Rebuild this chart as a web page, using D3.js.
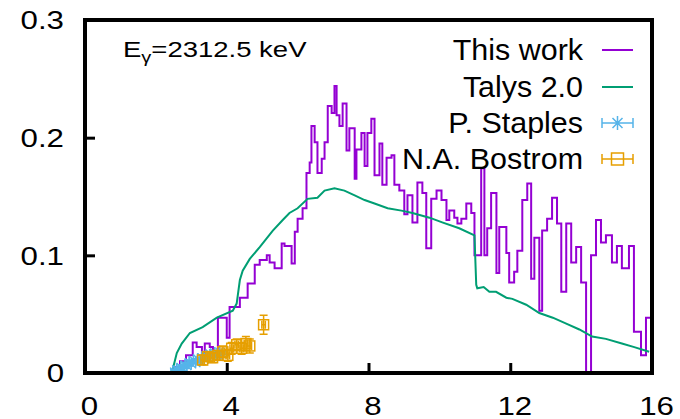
<!DOCTYPE html>
<html>
<head>
<meta charset="utf-8">
<script src="https://cdn.jsdelivr.net/npm/d3@7"></script>
<style>
  html, body { margin: 0; padding: 0; background: #fff; }
  svg { display: block; font-family: "Liberation Sans", Arial, sans-serif; }
</style>
</head>
<body>
<div id="chart"></div>
<script>
// ---- data ----
const xTicks = [0, 4, 8, 12, 16];
const yTicks = [0, 0.1, 0.2, 0.3];

// This work: histogram, left bin edges (MeV) and values
const workEdges = [2.51, 2.68, 2.85, 3.04, 3.15, 3.30, 3.38, 3.52, 3.61, 3.75, 4.00, 4.08, 4.37, 4.59, 4.79, 4.93,
  5.13, 5.21, 5.35, 5.55, 5.63, 5.83, 5.92, 6.00, 6.14, 6.25, 6.34, 6.39, 6.48, 6.56, 6.68, 6.76, 6.85, 6.96,
  7.04, 7.10, 7.18, 7.27, 7.38, 7.46, 7.61, 7.66, 7.80, 7.89, 7.97, 8.08, 8.17, 8.31, 8.39, 8.51, 8.65, 8.73,
  8.87, 9.01, 9.10, 9.24, 9.38, 9.52, 9.63, 9.77, 9.92, 10.06, 10.20, 10.28, 10.42, 10.51, 10.62, 10.76, 10.90,
  10.99, 11.18, 11.27, 11.35, 11.46, 11.61, 11.69, 11.89, 11.97, 12.11, 12.20, 12.34, 12.48, 12.59, 12.68,
  12.82, 12.90, 13.04, 13.18, 13.32, 13.44, 13.58, 13.72, 13.86, 14.00, 14.14, 14.28, 14.42, 14.56, 14.70,
  14.87, 15.01, 15.15, 15.35, 15.49, 15.69, 15.83];
const workVals = [0.005, 0.010, 0.015, 0.026, 0.022, 0.017, 0.025, 0.022, 0.017, 0.047, 0.030, 0.056, 0.064, 0.076, 0.092, 0.096,
  0.100, 0.094, 0.089, 0.110, 0.108, 0.093, 0.120, 0.131, 0.140, 0.170, 0.179, 0.210, 0.196, 0.170, 0.182, 0.196, 0.227, 0.221,
  0.244, 0.219, 0.210, 0.229, 0.189, 0.208, 0.165, 0.190, 0.204, 0.176, 0.204, 0.216, 0.168, 0.195, 0.160, 0.183, 0.185, 0.160,
  0.155, 0.135, 0.151, 0.128, 0.162, 0.153, 0.106, 0.148, 0.155, 0.147, 0.130, 0.138, 0.132, 0.127, 0.131, 0.144, 0.136,
  0.100, 0.174, 0.100, 0.123, 0.153, 0.085, 0.124, 0.102, 0.077, 0.086, 0.104, 0.147, 0.161, 0.080, 0.115,
  0.053, 0.121, 0.131, 0.149, 0.127, 0.069, 0.127, 0.094, 0.107, 0.077, 0.000, 0.100, 0.130, 0.111, 0.117,
  0.094, 0.108, 0.089, 0.108, 0.035, 0.015, 0.047];

// Talys 2.0
const talysE = [2.45, 2.59, 2.73, 2.96, 3.32, 3.72, 4.17, 4.28, 4.37, 4.45, 4.65, 4.93, 5.30, 5.58, 5.77, 6.00, 6.28,
  6.56, 6.76, 7.04, 7.32, 7.61, 7.89, 8.17, 8.54, 8.93, 9.24, 9.72, 10.08, 10.56, 10.99, 11.04, 11.07, 11.25,
  11.41, 11.60, 11.89, 12.06, 12.45, 12.82, 13.20, 13.58, 13.95, 14.31, 14.70, 15.15, 15.50, 15.92];
const talysVals = [0.000, 0.017, 0.025, 0.034, 0.039, 0.047, 0.053, 0.059, 0.079, 0.087, 0.097, 0.107, 0.121, 0.130, 0.136, 0.140, 0.148,
  0.149, 0.155, 0.157, 0.155, 0.151, 0.147, 0.144, 0.140, 0.138, 0.136, 0.132, 0.128, 0.123, 0.117, 0.075, 0.072, 0.073,
  0.069, 0.069, 0.064, 0.063, 0.058, 0.051, 0.047, 0.042, 0.037, 0.031, 0.029, 0.025, 0.022, 0.018];

// P. Staples
const staplesE = [2.52, 2.58, 2.64, 2.70, 2.76, 2.82, 2.88, 2.94, 3.00, 3.06, 3.12, 3.18, 3.24, 3.30, 3.36, 3.42,
  3.48, 3.54, 3.60, 3.66, 3.72, 3.80, 3.88];
const staplesVals = [0.001, 0.003, 0.002, 0.005, 0.004, 0.007, 0.006, 0.009, 0.008, 0.011, 0.009, 0.012, 0.010, 0.013, 0.012, 0.015,
  0.013, 0.016, 0.014, 0.017, 0.015, 0.018, 0.016];
const staplesXErr = [0.10, 0.10, 0.10, 0.10, 0.11, 0.11, 0.11, 0.11, 0.12, 0.12, 0.12, 0.12, 0.12, 0.13, 0.13, 0.13,
  0.13, 0.14, 0.14, 0.14, 0.14, 0.14, 0.14];

// N.A. Bostrom
const bostromE = [3.32, 3.46, 3.60, 3.75, 3.89, 4.03, 4.14, 4.28, 4.42, 4.54, 4.65, 5.04];
const bostromVals = [0.011, 0.014, 0.013, 0.015, 0.018, 0.015, 0.021, 0.024, 0.021, 0.025, 0.023, 0.041];
const bostromXErr = [0.05, 0.05, 0.05, 0.05, 0.05, 0.05, 0.05, 0.05, 0.05, 0.05, 0.05, 0.05];
const bostromYErr = [0.004, 0.004, 0.004, 0.004, 0.005, 0.005, 0.005, 0.005, 0.005, 0.006, 0.006, 0.008];

const legendLabels = ['This work', 'Talys 2.0', 'P. Staples', 'N.A. Bostrom'];

const cWork = '#9400d3', cTalys = '#009e73', cStaples = '#56b4e9', cBostrom = '#e69f00';

// ---- layout ----
const W = 680, H = 419;
const plot = { left: 85, right: 652, top: 20, bottom: 373 };

const svg = d3.select('#chart').append('svg')
    .attr('width', W)
    .attr('height', H);

const x = d3.scaleLinear().domain([0, 16]).range([plot.left, plot.right]);
const y = d3.scaleLinear().domain([0, 0.3]).range([plot.bottom, plot.top]);

svg.append('clipPath').attr('id', 'plotclip')
  .append('rect')
    .attr('x', plot.left).attr('y', plot.top)
    .attr('width', plot.right - plot.left).attr('height', plot.bottom - plot.top);

const g = svg.append('g').attr('clip-path', 'url(#plotclip)');

// This work histogram (drawn first, like gnuplot)
const histPts = [[workEdges[0], 0]];
workEdges.forEach((e, i) => histPts.push([e, workVals[i]]));
histPts.push([16, workVals[workVals.length - 1]]);
g.append('path')
    .datum(histPts)
    .attr('fill', 'none')
    .attr('stroke', cWork)
    .attr('stroke-width', 2)
    .attr('d', d3.line().x(d => x(d[0])).y(d => y(d[1])).curve(d3.curveStepAfter));

// Talys
g.append('path')
    .datum(talysE.map((e, i) => [e, talysVals[i]]))
    .attr('fill', 'none')
    .attr('stroke', cTalys)
    .attr('stroke-width', 2)
    .attr('d', d3.line().x(d => x(d[0])).y(d => y(d[1])));

// Staples: stars with x error bars
const stSz = 6;
const st = g.selectAll('.staples')
    .data(staplesE.map((e, i) => ({ e, v: staplesVals[i], dx: staplesXErr[i] })))
    .enter().append('g')
    .attr('stroke', cStaples)
    .attr('stroke-width', 1.3)
    .attr('fill', 'none');
st.append('path').attr('d', d => {
    const x0 = x(d.e - d.dx), x1 = x(d.e + d.dx), yy = y(d.v);
    return `M${x0},${yy}H${x1}M${x0},${yy - 4}V${yy + 4}M${x1},${yy - 4}V${yy + 4}`;
});
st.append('path').attr('d', d => {
    const cx = x(d.e), cy = y(d.v);
    return `M${cx - stSz},${cy}H${cx + stSz}M${cx},${cy - stSz}V${cy + stSz}` +
        `M${cx - stSz * 0.7},${cy - stSz * 0.7}L${cx + stSz * 0.7},${cy + stSz * 0.7}` +
        `M${cx - stSz * 0.7},${cy + stSz * 0.7}L${cx + stSz * 0.7},${cy - stSz * 0.7}`;
});

// Bostrom: open squares with xy error bars
const sq = 10;
const bo = g.selectAll('.bostrom')
    .data(bostromE.map((e, i) => ({ e, v: bostromVals[i], dx: bostromXErr[i], dy: bostromYErr[i] })))
    .enter().append('g')
    .attr('stroke', cBostrom)
    .attr('stroke-width', 1.5)
    .attr('fill', 'none');
bo.append('path').attr('d', d => {
    const cx = x(d.e), cy = y(d.v);
    const x0 = x(d.e - d.dx), x1 = x(d.e + d.dx), y0 = y(d.v - d.dy), y1 = y(d.v + d.dy);
    return `M${x0},${cy}H${x1}M${x0},${cy - 4}V${cy + 4}M${x1},${cy - 4}V${cy + 4}` +
        `M${cx},${y0}V${y1}M${cx - 4},${y0}H${cx + 4}M${cx - 4},${y1}H${cx + 4}`;
});
bo.append('rect')
    .attr('x', d => x(d.e) - sq / 2)
    .attr('y', d => y(d.v) - sq / 2)
    .attr('width', sq).attr('height', sq);

// ---- axes ----
const tickFont = 25, tickStretch = 1.25;

const xAxis = svg.append('g')
    .attr('transform', `translate(0,${plot.bottom})`)
    .call(d3.axisBottom(x).tickValues(xTicks).tickSize(-10).tickPadding(24).tickFormat(d3.format('d')));
const yAxis = svg.append('g')
    .attr('transform', `translate(${plot.left},0)`)
    .call(d3.axisLeft(y).tickValues(yTicks).tickSize(-10).tickPadding(21)
        .tickFormat(d => d === 0 ? '0' : d3.format('.1f')(d)));

[xAxis, yAxis].forEach(a => {
    a.select('.domain').remove();
    a.selectAll('.tick line').attr('stroke', '#000').attr('stroke-width', 3);
    a.selectAll('.tick text')
        .attr('fill', '#000')
        .style('font-size', tickFont + 'px')
        .style('font-family', '"Liberation Sans", Arial, sans-serif')
        .attr('transform', `scale(${tickStretch},1)`);
});
xAxis.selectAll('.tick text').attr('x', 4 / tickStretch);
yAxis.selectAll('.tick text').attr('x', -21 / tickStretch).attr('dy', '0.35em');

// frame, as four filled bars
const bw = 4;
const frame = [
    [plot.left - bw / 2, plot.top - bw / 2, plot.right - plot.left + bw, bw],
    [plot.left - bw / 2, plot.bottom - bw / 2, plot.right - plot.left + bw, bw],
    [plot.left - bw / 2, plot.top - bw / 2, bw, plot.bottom - plot.top + bw],
    [plot.right - bw / 2, plot.top - bw / 2, bw, plot.bottom - plot.top + bw]
];
svg.append('g').selectAll('rect')
    .data(frame)
    .enter().append('rect')
    .attr('x', d => d[0]).attr('y', d => d[1])
    .attr('width', d => d[2]).attr('height', d => d[3])
    .attr('fill', '#000');

// E_gamma label
const lab = svg.append('text')
    .attr('transform', `translate(123,57) scale(1.25,1)`)
    .style('font-size', '22px')
    .attr('fill', '#000');
lab.append('tspan').text('E');
lab.append('tspan').attr('dy', 6).style('font-size', '16px').text('γ');
lab.append('tspan').attr('dy', -6).text('=2312.5 keV');

// ---- legend ----
const legY = [50, 87, 123, 159];
const lx0 = 602, lx1 = 633, lxc = (lx0 + lx1) / 2;
const leg = svg.append('g');
legendLabels.forEach((t, i) => {
    leg.append('text')
        .attr('transform', `translate(583,${legY[i] + 10}) scale(1.05,1)`)
        .attr('text-anchor', 'end')
        .style('font-size', '29px')
        .attr('fill', '#000')
        .text(t);
});
leg.append('line').attr('x1', lx0).attr('x2', lx1).attr('y1', legY[0]).attr('y2', legY[0])
    .attr('stroke', cWork).attr('stroke-width', 2);
leg.append('line').attr('x1', lx0).attr('x2', lx1).attr('y1', legY[1]).attr('y2', legY[1])
    .attr('stroke', cTalys).attr('stroke-width', 2);
leg.append('path')
    .attr('d', `M${lx0},${legY[2]}H${lx1}M${lx0},${legY[2] - 5}V${legY[2] + 5}M${lx1},${legY[2] - 5}V${legY[2] + 5}` +
        `M${lxc - 7},${legY[2]}H${lxc + 7}M${lxc},${legY[2] - 7}V${legY[2] + 7}` +
        `M${lxc - 5},${legY[2] - 5}L${lxc + 5},${legY[2] + 5}M${lxc - 5},${legY[2] + 5}L${lxc + 5},${legY[2] - 5}`)
    .attr('stroke', cStaples).attr('stroke-width', 1.5).attr('fill', 'none');
leg.append('path')
    .attr('d', `M${lx0},${legY[3]}H${lx1}M${lx0},${legY[3] - 5}V${legY[3] + 5}M${lx1},${legY[3] - 5}V${legY[3] + 5}`)
    .attr('stroke', cBostrom).attr('stroke-width', 1.5).attr('fill', 'none');
leg.append('rect')
    .attr('x', lxc - 6).attr('y', legY[3] - 6).attr('width', 12).attr('height', 12)
    .attr('stroke', cBostrom).attr('stroke-width', 1.5).attr('fill', 'none');
</script>
</body>
</html>
